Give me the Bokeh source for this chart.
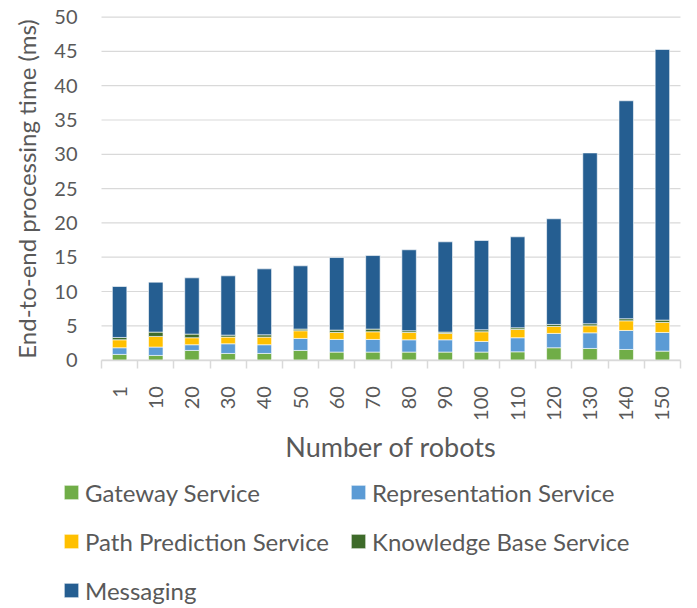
from math import pi
from bokeh.plotting import figure
from bokeh.models import (ColumnDataSource, Range1d, FixedTicker, Legend, LegendItem)
from bokeh.embed import file_html
from bokeh.resources import INLINE

# ---- data ----
robots = ["1", "10", "20", "30", "40", "50", "60", "70", "80", "90",
          "100", "110", "120", "130", "140", "150"]
gateway = [0.83, 0.68, 1.41, 0.97, 0.97, 1.41, 1.17, 1.17, 1.17, 1.17,
           1.17, 1.21, 1.80, 1.70, 1.55, 1.31]
representation = [0.97, 1.22, 0.83, 1.41, 1.27, 1.75, 1.84, 1.84, 1.79, 1.79,
                   1.55, 2.05, 2.09, 2.28, 2.77, 2.72]
path_prediction = [1.16, 1.55, 1.02, 0.97, 1.11, 1.12, 1.02, 1.12, 1.07, 0.93,
                   1.41, 1.21, 1.02, 1.02, 1.41, 1.46]
knowledge_base = [0.34, 0.63, 0.53, 0.29, 0.34, 0.24, 0.34, 0.39, 0.25, 0.19,
                  0.29, 0.24, 0.29, 0.30, 0.30, 0.34]
messaging = [7.43, 7.28, 8.20, 8.64, 9.61, 9.22, 10.58, 10.72, 11.80, 13.16,
             13.01, 13.26, 15.40, 24.90, 31.77, 39.45]
y_ticks = [0, 5, 10, 15, 20, 25, 30, 35, 40, 45, 50]

series_names = ["Gateway Service", "Representation Service", "Path Prediction Service",
                "Knowledge Base Service", "Messaging"]
series_keys = ["gateway", "representation", "path", "kb", "messaging"]
colors = ["#70AD47", "#5B9BD5", "#FFC000", "#3E6B2A", "#255E91"]

TXT = "#595959"
FONT = "Lato"

# ---- layout (pixels) ----
W, H = 697, 608
PLOT_L, PLOT_R, PLOT_T, PLOT_B = 101, 680, 16.6, 359.6
Y_MAX = 50

n = len(robots)
centers = [i + 0.5 for i in range(n)]
bounds = [float(i) for i in range(n + 1)]

px_per_cat = (PLOT_R - PLOT_L) / n
px_per_unit = (PLOT_B - PLOT_T) / Y_MAX
x_range = Range1d(-PLOT_L / px_per_cat, n + (W - PLOT_R) / px_per_cat)
y_range = Range1d(-(H - PLOT_B) / px_per_unit, PLOT_B / px_per_unit)

source = ColumnDataSource(dict(
    x=centers, gateway=gateway, representation=representation,
    path=path_prediction, kb=knowledge_base, messaging=messaging))

p = figure(width=W, height=H, output_backend="svg", toolbar_location=None,
           x_range=x_range, y_range=y_range,
           min_border_left=0, min_border_right=0, min_border_top=0,
           min_border_bottom=0)
p.outline_line_color = None
p.background_fill_color = "white"
p.border_fill_color = "white"
p.xgrid.visible = False
p.ygrid.visible = False

# horizontal gridlines limited to the plot area
p.segment(x0=[0] * len(y_ticks), x1=[n] * len(y_ticks), y0=y_ticks, y1=y_ticks,
          line_color="#D9D9D9", line_width=1.2)

rs = p.vbar_stack(series_keys, x="x", width=0.4, color=colors, source=source,
                  line_color="white", line_width=0.6)

# y axis
ya = p.yaxis[0]
ya.fixed_location = 0
ya.bounds = (0, Y_MAX)
ya.ticker = FixedTicker(ticks=y_ticks)
ya.axis_line_color = None
ya.major_tick_line_color = None
ya.minor_tick_line_color = None
ya.major_tick_out = 0
ya.major_tick_in = 0
ya.major_label_standoff = 24
ya.major_label_text_font = FONT
ya.major_label_text_font_size = "20px"
ya.major_label_text_color = TXT
ya.axis_label = "End-to-end processing time (ms)"
ya.axis_label_text_font = FONT
ya.axis_label_text_font_size = "24px"
ya.axis_label_text_font_style = "normal"
ya.axis_label_text_color = TXT
ya.axis_label_standoff = 10

# x axis
xa = p.xaxis[0]
xa.fixed_location = 0
xa.bounds = (0, n)
xa.ticker = FixedTicker(ticks=centers, minor_ticks=bounds)
xa.major_label_overrides = {c: lab for c, lab in zip(centers, robots)}
xa.axis_line_color = "#D9D9D9"
xa.axis_line_width = 1.5
xa.major_tick_line_color = None
xa.major_tick_out = 0
xa.major_tick_in = 0
xa.minor_tick_line_color = "#D9D9D9"
xa.minor_tick_line_width = 1.5
xa.minor_tick_out = 8
xa.minor_tick_in = 0
xa.major_label_orientation = pi / 2
xa.major_label_standoff = 18
xa.major_label_text_font = FONT
xa.major_label_text_font_size = "20px"
xa.major_label_text_color = TXT
xa.axis_label = "Number of robots"
xa.axis_label_text_font = FONT
xa.axis_label_text_font_size = "27px"
xa.axis_label_text_font_style = "normal"
xa.axis_label_text_color = TXT
xa.axis_label_standoff = 6

# legend
items = [LegendItem(label=nm, renderers=[r]) for nm, r in zip(series_names, rs)]
legend = Legend(items=items, orientation="horizontal", ncols=2,
                location=(62, 3.5), padding=0, margin=0, spacing=20,
                glyph_width=18, glyph_height=18, label_standoff=5,
                label_height=29, label_text_font=FONT,
                label_text_font_size="24px", label_text_color=TXT,
                border_line_color=None, background_fill_alpha=0)
p.add_layout(legend, "center")

open("out.html", "w").write(file_html(p, INLINE))
